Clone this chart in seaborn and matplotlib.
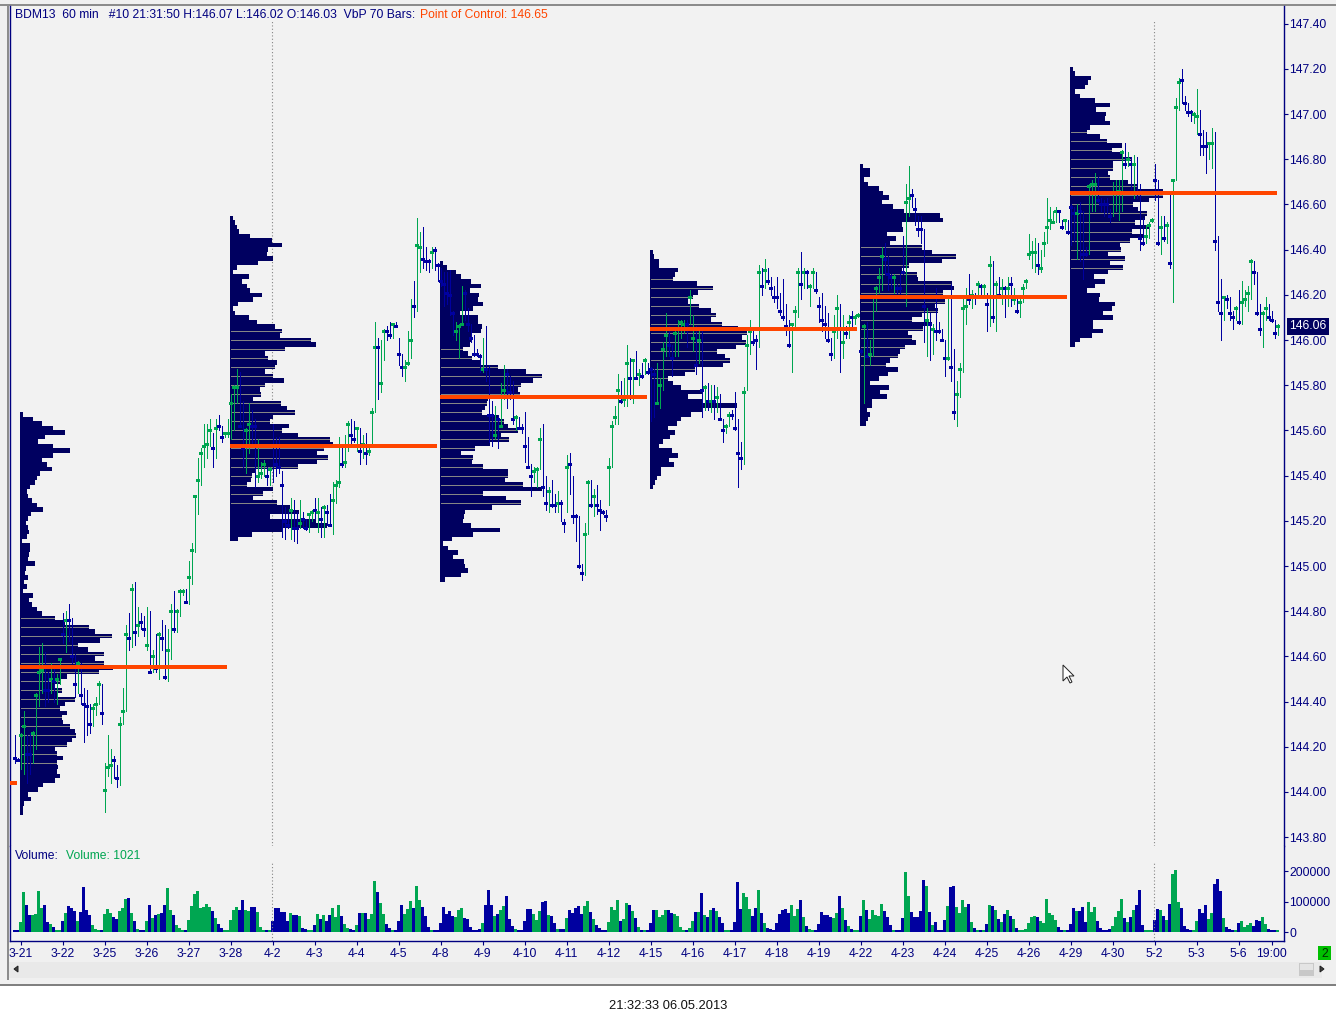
import numpy as np
import pandas as pd
import matplotlib
matplotlib.use("Agg")
import matplotlib.pyplot as plt
from matplotlib.patches import Rectangle, Polygon
import seaborn as sns

# === Data ===
# hourly bars, prices in cents, one row per 14 bars (one session)
bar_high = [
    14425,14415,14426,14436,14425,14426,14427,14444,14464,14466,14462,14453,14457,14456,
    14452,14459,14479,14480,14483,14477,14461,14458,14457,14446,14445,14439,14439,14442,
    14449,14448,14413,14425,14419,14416,14412,14433,14446,14474,14479,14492,14493,14482,
    14479,14478,14482,14480,14463,14470,14471,14476,14474,14472,14483,14489,14481,14490,
    14490,14490,14502,14510,14531,14548,14552,14563,14563,14565,14559,14565,14567,14562,
    14559,14565,14576,14580,14587,14586,14573,14561,14572,14569,14565,14556,14546,14547,
    14544,14544,14563,14557,14557,14542,14526,14524,14530,14529,14524,14529,14524,14521,
    14523,14525,14530,14530,14526,14527,14527,14532,14537,14538,14557,14553,14558,14564,
    14565,14564,14561,14561,14558,14559,14552,14570,14608,14601,14600,14605,14606,14608,
    14607,14608,14601,14594,14591,14604,14618,14626,14654,14648,14650,14641,14636,14641,
    14641,14634,14632,14630,14630,14631,14613,14608,14607,14624,14622,14614,14607,14602,
    14596,14594,14601,14606,14589,14573,14571,14567,14581,14589,14587,14584,14582,14567,
    14566,14563,14568,14557,14545,14544,14544,14561,14563,14540,14535,14538,14532,14533,
    14529,14521,14549,14550,14540,14523,14522,14501,14519,14538,14538,14534,14536,14529,
    14525,14525,14548,14564,14571,14585,14582,14583,14598,14592,14591,14595,14587,14590,
    14592,14590,14588,14587,14590,14583,14599,14612,14606,14598,14604,14609,14609,14609,
    14609,14622,14611,14606,14605,14605,14580,14581,14580,14580,14579,14576,14565,14563,
    14568,14569,14577,14565,14555,14579,14602,14609,14605,14602,14633,14632,14636,14632,
    14628,14624,14628,14621,14627,14616,14609,14607,14615,14632,14639,14632,14631,14625,
    14632,14630,14619,14621,14615,14612,14601,14611,14620,14616,14611,14606,14611,14613,
    14611,14612,14596,14607,14608,14600,14619,14624,14632,14641,14643,14637,14629,14629,
    14625,14629,14646,14669,14677,14667,14663,14655,14655,14649,14614,14612,14607,14623,
    14608,14605,14600,14619,14625,14596,14582,14590,14618,14623,14629,14622,14621,14626,
    14625,14625,14621,14637,14635,14626,14628,14627,14624,14628,14628,14623,14618,14618,
    14625,14627,14647,14644,14645,14643,14640,14648,14663,14659,14657,14659,14657,14653,
    14653,14653,14660,14659,14660,14661,14657,14641,14669,14671,14674,14672,14663,14662,
    14663,14658,14670,14671,14671,14684,14687,14683,14681,14682,14681,14669,14654,14651,
    14652,14654,14678,14671,14655,14655,14652,14664,14671,14707,14716,14720,14708,14705,
    14702,14701,14711,14702,14693,14692,14687,14694,14692,14646,14627,14619,14620,14619,
    14613,14615,14622,14626,14622,14624,14636,14635,14630,14616,14613,14619,14616,14613,
    14609,14607,
]
bar_low = [
    14413,14414,14410,14408,14404,14408,14413,14419,14438,14444,14438,14440,14444,14440,
    14439,14448,14466,14462,14467,14457,14442,14444,14439,14422,14425,14426,14429,14434,
    14439,14430,14391,14407,14404,14406,14402,14403,14430,14436,14463,14464,14465,14469,
    14472,14469,14463,14453,14453,14453,14450,14463,14450,14449,14459,14471,14471,14478,
    14487,14484,14483,14492,14506,14523,14536,14544,14548,14553,14544,14548,14560,14555,
    14557,14557,14556,14560,14572,14563,14544,14541,14550,14554,14535,14537,14539,14540,
    14536,14536,14537,14540,14541,14513,14512,14517,14512,14511,14510,14517,14517,14516,
    14515,14520,14521,14515,14513,14513,14518,14518,14514,14528,14535,14544,14544,14551,
    14554,14555,14551,14545,14548,14545,14549,14553,14568,14574,14577,14591,14600,14601,
    14601,14606,14589,14584,14582,14589,14592,14610,14613,14630,14632,14631,14630,14632,
    14631,14626,14624,14615,14616,14611,14602,14600,14592,14607,14609,14604,14599,14593,
    14593,14586,14586,14582,14555,14553,14556,14552,14562,14574,14570,14574,14563,14560,
    14561,14559,14546,14544,14531,14537,14535,14543,14531,14525,14524,14526,14524,14524,
    14520,14515,14524,14532,14519,14511,14499,14494,14496,14514,14526,14522,14523,14516,
    14523,14520,14527,14544,14563,14563,14572,14571,14571,14574,14572,14583,14580,14583,
    14585,14585,14564,14566,14572,14570,14578,14593,14593,14584,14593,14593,14601,14603,
    14597,14607,14595,14585,14590,14566,14569,14569,14568,14565,14568,14565,14555,14559,
    14562,14565,14560,14535,14543,14545,14578,14594,14598,14587,14597,14620,14623,14625,
    14620,14617,14614,14611,14609,14602,14597,14586,14606,14610,14618,14623,14623,14615,
    14623,14621,14608,14604,14601,14599,14591,14592,14601,14586,14592,14601,14601,14606,
    14607,14610,14594,14572,14593,14589,14593,14613,14621,14622,14629,14622,14623,14621,
    14621,14621,14629,14615,14655,14659,14651,14646,14643,14599,14593,14591,14594,14600,
    14603,14600,14584,14591,14582,14565,14562,14575,14586,14607,14616,14614,14616,14619,
    14620,14619,14604,14606,14608,14604,14619,14616,14610,14615,14615,14616,14612,14610,
    14617,14623,14636,14632,14630,14629,14630,14637,14643,14649,14652,14652,14652,14649,
    14649,14647,14642,14644,14636,14635,14627,14637,14638,14657,14657,14661,14657,14655,
    14656,14652,14655,14657,14653,14657,14676,14677,14667,14663,14663,14640,14642,14643,
    14645,14652,14662,14642,14638,14644,14643,14632,14617,14671,14702,14705,14702,14699,
    14697,14696,14691,14682,14682,14674,14680,14676,14640,14613,14600,14609,14614,14609,
    14605,14609,14607,14607,14615,14613,14618,14625,14611,14602,14597,14609,14609,14608,
    14601,14602,
]
bar_close = [
    14415,14414,14425,14429,14417,14417,14426,14443,14453,14454,14445,14445,14450,14449,
    14450,14459,14470,14476,14476,14460,14448,14457,14443,14439,14438,14430,14437,14439,
    14448,14435,14401,14411,14412,14414,14406,14430,14436,14470,14468,14490,14471,14474,
    14475,14472,14465,14453,14460,14455,14470,14468,14451,14463,14480,14472,14480,14489,
    14489,14484,14495,14507,14531,14538,14550,14553,14554,14560,14552,14561,14562,14557,
    14559,14559,14572,14579,14579,14562,14552,14560,14563,14562,14562,14540,14541,14545,
    14540,14543,14553,14545,14544,14536,14520,14518,14525,14517,14517,14519,14521,14517,
    14523,14524,14525,14524,14521,14526,14524,14518,14529,14536,14537,14545,14546,14563,
    14558,14556,14561,14551,14554,14550,14551,14568,14597,14597,14581,14604,14604,14602,
    14607,14606,14594,14588,14588,14590,14600,14615,14642,14641,14636,14635,14635,14639,
    14640,14633,14626,14625,14621,14620,14612,14604,14606,14607,14621,14607,14601,14594,
    14594,14593,14587,14587,14567,14567,14558,14565,14562,14578,14585,14577,14565,14566,
    14561,14561,14553,14544,14540,14542,14543,14556,14535,14528,14533,14527,14527,14528,
    14528,14519,14544,14545,14522,14522,14500,14497,14514,14537,14527,14531,14527,14525,
    14524,14522,14544,14562,14566,14578,14573,14574,14590,14583,14591,14583,14585,14584,
    14591,14586,14587,14585,14572,14580,14596,14602,14598,14592,14603,14605,14608,14607,
    14607,14619,14601,14589,14600,14578,14579,14573,14573,14573,14575,14565,14560,14562,
    14567,14567,14561,14550,14548,14577,14598,14604,14599,14600,14630,14624,14631,14626,
    14623,14619,14619,14613,14610,14606,14598,14607,14613,14630,14625,14630,14630,14624,
    14630,14622,14615,14609,14607,14600,14594,14604,14614,14605,14599,14603,14608,14610,
    14610,14611,14595,14606,14593,14594,14619,14623,14628,14637,14636,14629,14628,14628,
    14623,14623,14630,14661,14663,14664,14658,14649,14649,14615,14609,14607,14605,14604,
    14604,14600,14592,14592,14588,14568,14576,14587,14614,14615,14618,14620,14619,14625,
    14624,14624,14616,14633,14610,14625,14620,14623,14623,14623,14625,14618,14613,14617,
    14623,14626,14638,14639,14639,14633,14632,14643,14650,14653,14652,14657,14657,14650,
    14653,14648,14659,14656,14656,14657,14638,14638,14668,14669,14669,14662,14660,14660,
    14660,14655,14665,14665,14666,14683,14678,14680,14678,14678,14665,14645,14643,14646,
    14651,14653,14671,14643,14650,14645,14651,14634,14671,14703,14714,14715,14705,14701,
    14701,14700,14699,14691,14686,14686,14687,14687,14644,14617,14612,14619,14618,14612,
    14610,14614,14608,14617,14618,14621,14635,14630,14612,14605,14612,14614,14610,14609,
    14603,14606,
]
# n = down bar (blue), g = up bar (green)
bar_dir = (
    "nnggnnggggnngn" "ggngnnngnnnngg" "gngggnngggngng" "nngngngnnggngg" "gnggggggggngnn"
    "gggggnnggnnggg" "ngnnnnnngnngnn" "ggngngnngggngg" "nngngngggnggnn" "gnnngggnggnnng"
    "nnnnnnngggnnnn" "nngnnngnggnnng" "nnnnngggnngnng" "nngnnnnnggngnn" "nnggggnggngngn"
    "gnnnggggnngggg" "nggngngngngnng" "gnnnngggnngngn" "nnnnnnngggngng" "gnnnnnnggngngn"
    "ggngngggggnnng" "nnnggnnnnngngn" "nnngnnggggngng" "ngngngngngngng" "gggggnggggggnn"
    "gnnngnnngggnnn" "nnggggngngnnng" "ggnngngngggnnn" "nggnnnggnnngnn" "ngnggggnnnggnn"
    "ng"
)
# volume in units of 1100 contracts
volume_read = [
    6,6,30,120,81,51,51,54,123,72,81,30,24,15,
    6,6,33,57,78,72,63,33,60,135,66,51,21,9,
    6,6,54,69,57,45,39,63,72,99,102,57,33,9,
    6,6,33,81,42,51,54,57,81,132,66,51,21,12,
    6,6,36,78,114,123,72,75,84,75,63,42,24,12,
    6,6,36,66,75,66,96,66,63,75,75,60,15,6,
    6,6,33,72,72,60,60,33,57,51,51,48,12,9,
    6,6,21,54,39,51,33,51,72,45,81,48,24,12,
    9,6,21,57,57,57,39,54,153,120,87,54,24,12,
    6,6,33,81,54,69,93,72,138,96,75,48,15,6,
    6,6,27,75,54,63,48,45,66,72,42,39,15,6,
    6,9,27,81,126,81,48,54,66,78,108,39,18,9,
    6,6,33,69,69,54,36,63,90,93,51,48,27,9,
    9,9,42,66,57,72,78,54,78,93,60,39,21,12,
    6,6,30,75,66,96,33,39,87,81,63,42,15,6,
    6,6,27,66,66,45,51,66,66,57,54,48,15,6,
    6,12,33,60,60,117,51,45,66,72,63,45,27,6,
    6,6,30,150,69,117,105,69,48,72,126,57,27,12,
    9,6,27,54,66,69,57,81,48,69,96,45,18,9,
    6,6,24,60,51,51,45,42,57,108,72,36,18,9,
    6,6,48,96,66,39,66,51,48,84,63,45,21,6,
    6,6,42,180,108,60,45,45,63,156,138,60,21,30,
    6,6,36,78,135,138,75,57,96,75,84,30,12,6,
    6,6,24,81,78,66,39,30,54,66,48,39,12,6,
    6,9,27,45,48,45,33,27,99,57,51,36,15,6,
    6,6,24,72,63,63,75,30,90,60,75,33,12,6,
    6,9,18,45,63,99,42,30,45,66,81,126,21,6,
    6,6,36,69,66,48,36,84,174,186,90,72,18,9,
    6,6,33,69,57,81,39,57,144,159,123,42,15,9,
    6,6,27,33,15,21,27,18,36,33,45,24,9,6,
    6,6,
]

# volume profiles, one row per 2 cents from the top price down
profile_1 = [3,13,22,33,45,25,18,33,50,33,22,27,32,20,17,15,10,7,8,12,17,23,11,8,6,8,9,7,2,10,10,9,8,15,6,5,8,4,7,3,13,9,12,17,22,35,45,69,75,92,80,58,68,84,75,84,93,79,47,40,35,42,38,55,45,40,47,42,43,50,55,56,52,47,35,37,43,37,38,37,40,35,23,18,8,11,4,3,3]
profile_2 = [3,5,7,9,20,42,52,38,37,43,28,7,3,19,12,17,20,32,23,8,3,5,19,27,45,52,50,81,86,55,35,38,47,45,35,43,54,35,30,31,23,51,57,65,43,40,59,52,68,100,103,94,87,98,87,68,25,22,21,17,43,33,23,47,60,69,40,86,97,52,22,8]
profile_3 = [3,7,16,21,31,41,30,39,38,43,33,20,38,38,42,41,32,31,30,23,28,32,40,58,86,102,93,81,78,80,48,47,45,42,58,64,68,78,61,69,50,35,21,33,32,43,68,68,65,83,102,43,66,81,52,25,24,23,31,60,33,12,3,8,18,13,24,25,28,21,5]
profile_4 = [3,4,9,9,28,25,23,47,63,48,43,38,49,61,66,61,72,88,97,92,96,86,67,75,80,73,45,35,18,23,31,52,38,53,87,52,41,31,27,18,25,20,13,9,22,28,19,24,11,11,7,5,3]
profile_5 = [3,10,10,4,8,19,23,29,22,33,44,80,83,42,43,27,36,30,62,72,96,82,49,42,57,58,92,94,83,102,85,75,78,62,52,72,63,48,52,56,45,40,38,30,26,38,28,19,10,29,20,27,12,12,7,10,8,6]
profile_6 = [3,5,21,18,15,5,10,25,40,26,36,35,40,20,17,30,37,52,42,53,62,43,43,38,40,58,67,93,93,79,63,68,77,75,65,80,62,73,60,50,51,38,55,40,53,38,24,35,25,17,30,29,45,42,33,43,23,23,33,22,10,5]
profiles = [profile_1, profile_2, profile_3, profile_4, profile_5, profile_6]
profile_top = [145.67, 146.54, 146.34, 146.39, 146.77, 147.20]
profile_start = [2, 72, 142, 212, 282, 352]
poc_price = [144.555, 145.53, 145.75, 146.05, 146.19, 146.65]
value_high = [144.78, 146.04, 145.96, 146.27, 146.42, 146.92]
value_low = [144.12, 145.27, 145.27, 145.81, 145.89, 146.31]
previous_poc = 144.04

price_ticks = [143.8, 144.0, 144.2, 144.4, 144.6, 144.8, 145.0, 145.2, 145.4, 145.6, 145.8,
               146.0, 146.2, 146.4, 146.6, 146.8, 147.0, 147.2, 147.4]
volume_ticks = [0, 100000, 200000]
day_labels = ["3-21","3-22","3-25","3-26","3-27","3-28","4-2","4-3","4-4","4-5","4-8","4-9",
              "4-10","4-11","4-12","4-15","4-16","4-17","4-18","4-19","4-22","4-23","4-24",
              "4-25","4-26","4-29","4-30","5-2","5-3","5-6"]
last_price = 146.06

# === Styles ===
W, H = 1336, 1021
NAVY = "#0000A0"
DARK = "#000060"
GREEN = "#00A651"
ORANGE = "#FF4500"
TEXT = "#000080"
PANEL = "#F2F2F2"
GREY = "#858585"
FONT = 8.75

sns.set_style("white")
plt.rcParams["font.family"] = ["Liberation Sans", "DejaVu Sans"]
plt.rcParams["font.size"] = FONT


def px_rect(fig, x0, y0, x1, y1, color, zorder=-1):
    fig.add_artist(Rectangle((x0 / W, 1 - y1 / H), (x1 - x0) / W, (y1 - y0) / H,
                             transform=fig.transFigure, facecolor=color, edgecolor="none",
                             zorder=zorder))


def px_axes(fig, x0, y0, x1, y1):
    return fig.add_axes([x0 / W, 1 - y1 / H, (x1 - x0) / W, (y1 - y0) / H])


fig = plt.figure(figsize=(W / 100, H / 100), dpi=100, facecolor="white")

# window chrome
px_rect(fig, 0, 0, W, 985, "#F0F0F0")
px_rect(fig, 0, 984, W, 986, "#808080")
px_rect(fig, 0, 4, W, 6, "#8C8C8C")
px_rect(fig, 7, 4, 9, 980, "#8C8C8C")
px_rect(fig, 9, 962, 1322, 978, "#E9E9E9")
px_rect(fig, 1299, 963, 1314, 976, "#C8C8C8")
px_rect(fig, 1300, 964, 1313, 970, "#E4E4E4")

X_LEFT, X_RIGHT = -1.5, 423.0  # 3 pixels per bar
ax = px_axes(fig, 10, 6, 1283.5, 846)
ax_vol = px_axes(fig, 10, 846, 1283.5, 941)
for a in (ax, ax_vol):
    a.set_facecolor(PANEL)

# === Price panel ===
bars = pd.DataFrame({
    "bar": np.arange(len(bar_high)),
    "high": np.array(bar_high) / 100,
    "low": np.array(bar_low) / 100,
    "close": np.array(bar_close) / 100,
    "dir": list(bar_dir),
    "volume": np.array(volume_read) * 1100,
})
bar_colors = bars["dir"].map({"n": NAVY, "g": GREEN})

for prof, top, start, poc, v_hi, v_lo in zip(profiles, profile_top, profile_start, poc_price,
                                             value_high, value_low):
    levels = np.round(top - 0.02 * np.arange(len(prof)), 2)
    widths = np.array(prof) / 3
    sns.barplot(x=widths, y=levels, orient="y", native_scale=True, color=DARK, saturation=1,
                width=1, left=start - 0.17, linewidth=0, antialiased=False, zorder=2, ax=ax)
    # grey value-area rows every 4 cents
    in_area = np.where((levels <= v_hi + 0.005) & (levels >= v_lo - 0.005))[0][::2]
    ax.hlines(levels[in_area], start + 0.1, start - 0.4 + widths[in_area], color=GREY, lw=0.72,
              antialiased=False, zorder=3)
    # point of control
    ax.hlines(poc, start - 0.17, start + 68.83, color=ORANGE, lw=2.88, antialiased=False, zorder=6)

ax.hlines(previous_poc, -1.5, 0.8, color=ORANGE, lw=2.88, antialiased=False, zorder=6)

ax.vlines(bars["bar"], bars["low"], bars["high"], colors=bar_colors, lw=0.72, antialiased=False, zorder=4)
ax.hlines(bars["close"], bars["bar"] - 0.65, bars["bar"] + 0.65, colors=bar_colors, lw=2.16,
          antialiased=False, zorder=5)

ax.set_ylim(143.761, 147.478)
ax.set_xlim(X_LEFT, X_RIGHT)
ax.set_xlabel("")
ax.set_ylabel("")
ax.set_xticks([])
ax.yaxis.tick_right()
ax.set_yticks(price_ticks, [f"{p:.2f}" for p in price_ticks])

# === Volume panel ===
sns.barplot(data=bars, x="bar", y="volume", hue="dir", palette={"n": NAVY, "g": GREEN},
            native_scale=True, dodge=False, width=1, saturation=1, linewidth=0,
            antialiased=False, legend=False, ax=ax_vol)
ax_vol.set_ylim(-29500, 282000)
ax_vol.set_xlim(X_LEFT, X_RIGHT)
ax_vol.set_xlabel("")
ax_vol.set_ylabel("")
ax_vol.yaxis.tick_right()
ax_vol.set_yticks(volume_ticks, [str(v) for v in volume_ticks])
day_pos = [2 + 14 * i for i in range(len(day_labels))]
ax_vol.set_xticks(day_pos + [419], day_labels + ["19:00"])

# dotted month separators
for k in (85.7, 379.7):
    ax.axvline(k, ymax=0.983, color=GREY, lw=0.8, ls=(0, (1, 2)), zorder=1)
    ax_vol.axvline(k, ymax=0.83, color=GREY, lw=0.8, ls=(0, (1, 2)), zorder=1)

# spines and ticks
for a in (ax, ax_vol):
    for name in ("left", "right"):
        a.spines[name].set_visible(True)
        a.spines[name].set_color(TEXT)
        a.spines[name].set_linewidth(1.0)
    a.spines["top"].set_visible(False)
    a.tick_params(axis="y", which="major", right=True, left=False, length=3, width=0.8, color=TEXT,
                  labelcolor=TEXT, labelsize=FONT, pad=1)
ax.spines["bottom"].set_visible(False)
ax_vol.spines["bottom"].set_visible(True)
ax_vol.spines["bottom"].set_color(TEXT)
ax_vol.spines["bottom"].set_linewidth(1.0)
ax_vol.tick_params(axis="x", bottom=True, length=3, width=0.8, color=TEXT, labelcolor=TEXT,
                   labelsize=FONT, pad=2)

# === Header texts and labels ===
def px_text(x, y, s, color=TEXT, ha="left", size=FONT):
    fig.text(x / W, 1 - y / H, s, color=color, ha=ha, va="center", fontsize=size, zorder=10)


px_text(15, 15, "BDM13  60 min   #10 21:31:50 H:146.07 L:146.02 O:146.03  VbP 70 Bars:")
px_text(420, 15, "Point of Control: 146.65", color=ORANGE)
px_text(15, 856, "Volume:")
px_text(66, 856, "Volume: 1021", color=GREEN)
px_text(668, 1006, "21:32:33 06.05.2013", color="#101010", ha="center", size=9.3)

# last price box
ax.annotate(f"{last_price:.2f}", xy=(1, last_price), xycoords=("axes fraction", "data"),
            xytext=(4, 0), textcoords="offset points", ha="left", va="center", color="white",
            fontsize=FONT, annotation_clip=False, zorder=10,
            bbox=dict(boxstyle="square,pad=0.2", facecolor=DARK, edgecolor="none"))

# small status box, scroll arrows and mouse pointer
px_rect(fig, 1318, 946, 1331, 960, "#00C000", zorder=5)
px_text(1324.5, 954, "2", color="#003000", ha="center")
for pts, col in (
    ([(1063, 665), (1063, 681), (1067, 677), (1070, 683), (1072, 682), (1069, 676), (1074, 676)], "white"),
    ([(14, 969), (18, 966), (18, 972)], "#404040"),
    ([(1320, 966), (1320, 972), (1324, 969)], "#404040"),
):
    fig.add_artist(Polygon([(x / W, 1 - y / H) for x, y in pts], closed=True, transform=fig.transFigure,
                           facecolor=col, edgecolor="#202020", lw=0.7, zorder=8))

fig.savefig("out.png", dpi=100, facecolor="white")
